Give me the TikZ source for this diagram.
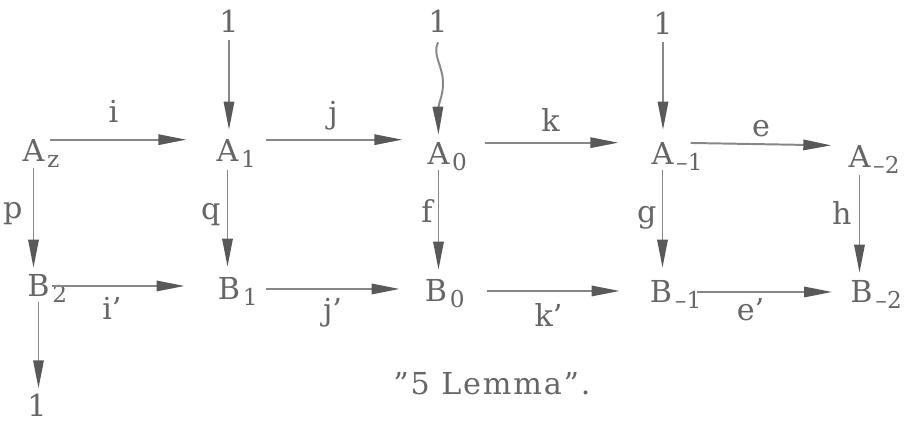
\documentclass[tikz,border=0pt]{standalone}
\usepackage{fontspec}
\setmainfont{DejaVu Serif}
\usetikzlibrary{arrows.meta}
\usepackage{xcolor}

\definecolor{inkgray}{gray}{0.4}
\definecolor{linegray}{gray}{0.53}
\definecolor{tipgray}{gray}{0.35}
\newcommand{\diagfont}{\fontsize{21.5}{24}\selectfont}
\newcommand{\idxfont}{\fontsize{16.5}{18}\selectfont}
\newcommand{\lowsub}[1]{\rlap{\kern2pt\raisebox{-4.2pt}[0pt][0pt]{\idxfont #1}}}

\begin{document}
\begin{tikzpicture}[
    x=0.025cm, y=-0.025cm,
    obj/.style={inner sep=0pt, anchor=base, text=inkgray, font=\diagfont},
    lbl/.style={inner sep=0pt, text=inkgray, font=\diagfont},
    arr/.style={draw=linegray, line width=1.4pt, -{Triangle[length=7mm, width=2.6mm, color=tipgray]}}
]
\useasboundingbox (0,0) rectangle (910,425);

% top row
\node[obj] (Az) at (33.5,162) {A\lowsub{z}};
\node[obj] (A1) at (227.5,162) {A\lowsub{1}};
\node[obj] (A0) at (438.5,165) {A\lowsub{0}};
\node[obj] (Am1) at (662.5,165) {A\lowsub{--1}};
\node[obj] (Am2) at (859.5,168) {A\lowsub{--2}};

% bottom row
\node[obj] (B2) at (38.5,297) {B\lowsub{2}};
\node[obj] (B1) at (229,300) {B\lowsub{1}};
\node[obj] (B0) at (436,302) {B\lowsub{0}};
\node[obj] (Bm1) at (661,303) {B\lowsub{--1}};
\node[obj] (Bm2) at (861.5,303) {B\lowsub{--2}};

% trivial groups
\node[obj] (top1) at (229,33) {1};
\node[obj] (top0) at (438,33) {1};
\node[obj] (topm1) at (663,35) {1};
\node[obj] (bot2) at (37,417) {1};

\node[obj] (title) at (492,395) {\addfontfeature{LetterSpace=6}''5 Lemma''.};

\draw[arr, shorten <=1.25mm, shorten >=7.5mm] (Az.north east) -- node[lbl, pos=0.4, above=4mm] {i} (Az.north east -| A1.west);
\draw[arr, shorten <=6.75mm, shorten >=6.25mm] (A1.north east) -- node[lbl, above=2mm] {j} (A1.north east -| A0.west);
\draw[arr, shorten <=8.75mm, shorten >=8.25mm] (A0.north east) -- node[lbl, above=2.5mm] {k} (A0.north east -| Am1.west);
\draw[arr, shorten <=4.25mm, shorten >=4.25mm] (Am1.north east) -- node[lbl, above=1.5mm] {e} (Am2.north west);

\draw[arr, shorten <=0.5mm, shorten >=8.25mm] (B2.east) -- node[lbl, pos=0.37, below=2.5mm] {i'} (B2.east -| B1.west);
\draw[arr, shorten <=6.5mm, shorten >=6.25mm] (B1.east) -- node[lbl, below=2mm] {j'} (B1.east -| B0.west);
\draw[arr, shorten <=10mm, shorten >=7.5mm] (B0.east) -- node[lbl, below=3mm] {k'} (B0.east -| Bm1.west);
\draw[arr, shorten <=6.25mm, shorten >=4.5mm] (Bm1.east) -- node[lbl, pos=0.44, below=1.25mm] {e'} (Bm1.east -| Bm2.west);

\draw[arr, shorten <=1.5mm, shorten >=1.75mm] (Az.south) -- node[lbl, anchor=base east, xshift=-2.5mm] {p} (Az.south |- B2.north);
\draw[arr, shorten <=2mm, shorten >=2.75mm] (A1.south) -- node[lbl, anchor=base east, xshift=-1.5mm] {q} (A1.south |- B1.north);
\draw[arr, shorten <=1.25mm, shorten >=2.5mm] (A0.south) -- node[lbl, anchor=base east, xshift=-1.25mm] {f} (A0.south |- B0.north);
\draw[arr, shorten <=1.25mm, shorten >=3.25mm] (Am1.south) -- node[lbl, anchor=base east, xshift=-1.25mm] {g} (Am1.south |- Bm1.north);
\draw[arr, shorten <=1.75mm, shorten >=2mm] (Am2.south) -- node[lbl, anchor=base east, xshift=-1.75mm] {h} (Am2.south |- Bm2.north);

\draw[arr, shorten <=1.25mm, shorten >=1.5mm] (B2.south) -- (B2.south |- bot2.north);
\draw[arr, shorten <=1.75mm, shorten >=2.5mm] (top1.south) -- (top1.south |- A1.north);
\draw[arr, shorten <=1.75mm, shorten >=3.25mm] (topm1.south) -- (topm1.south |- Am1.north);

% wavy one
\draw[arr] ([yshift=-6.4pt]top0.south) .. controls +(-6,13) and +(0,-18) .. ++(5,41)
    .. controls +(0,14) and +(0,-10) .. ++(-5,29) -- ([yshift=5.7pt]A0.north);
\end{tikzpicture}
\end{document}
